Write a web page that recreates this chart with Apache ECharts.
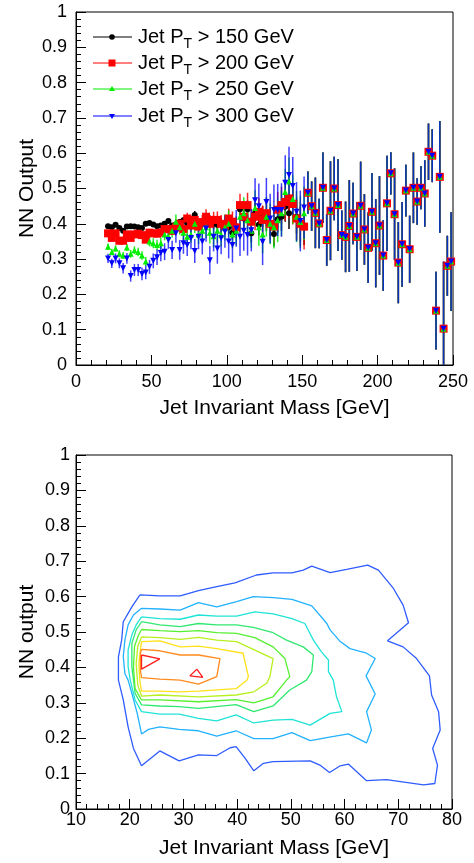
<!DOCTYPE html>
<html><head><meta charset="utf-8">
<script src="https://cdn.jsdelivr.net/npm/echarts@6/dist/echarts.min.js"></script>
<style>html,body{margin:0;padding:0;background:#fff}#c{width:474px;height:863px}</style>
</head><body><div id="c"></div>
<script>
// ---------- top panel: profile data ----------
const massLow = [21.25,23.75,26.25,28.75,31.25,33.75,36.25,38.75,41.25,43.75,46.25,48.75,51.25,53.75,56.25,58.75,61.25,
 63.75,66.25,68.75,71.25,73.75,76.25,78.75,81.25,83.75,86.25,88.75,91.25,93.75,96.25,98.75,101.25,103.75,106.25,108.75,111.25,
 113.75,116.25,118.75,121.25,123.75,126.25,128.75,131.25,133.75,136.25,138.75,141.25,143.75,146.25,148.75,151.25];
const massHigh = [153.75,156.25,158.75,161.25,163.75,166.25,168.75,171.25,173.75,176.25,178.75,181.25,183.75,186.25,188.75,
 191.25,193.75,196.25,198.75,201.25,203.75,206.25,208.75,211.25,213.75,216.25,218.75,221.25,223.75,226.25,228.75,231.25,
 233.75,236.25,238.75,241.25,243.75,246.25,248.75];

const pt150Low = [0.393,0.390,0.397,0.388,0.380,0.392,0.393,0.392,0.390,0.388,0.400,0.402,0.398,0.393,0.395,0.400,0.408,
 0.395,0.398,0.405,0.410,0.401,0.410,0.425,0.397,0.400,0.406,0.410,0.400,0.397,0.400,0.387,0.390,0.375,0.392,0.441,0.415,
 0.441,0.373,0.430,0.397,0.420,0.411,0.400,0.371,0.413,0.420,0.448,0.430,0.460,0.420,0.400,0.395];
const pt200Low = [0.373,0.360,0.373,0.352,0.352,0.370,0.360,0.370,0.372,0.368,0.355,0.375,0.373,0.372,0.375,0.385,0.385,
 0.380,0.390,0.400,0.385,0.415,0.395,0.411,0.392,0.405,0.420,0.400,0.411,0.411,0.400,0.395,0.415,0.406,0.390,0.453,0.420,
 0.453,0.406,0.420,0.434,0.411,0.430,0.400,0.392,0.440,0.453,0.462,0.472,0.456,0.415,0.400,0.392];
const pt250Low = [0.335,0.320,0.330,0.315,0.310,0.333,0.315,0.325,0.320,0.310,0.293,0.350,0.345,0.340,0.345,0.370,0.365,
 0.380,0.406,0.390,0.375,0.363,0.370,0.400,0.370,0.380,0.390,0.375,0.365,0.380,0.370,0.390,0.400,0.370,0.380,0.420,0.430,
 0.410,0.380,0.445,0.390,0.370,0.420,0.400,0.390,0.410,0.430,0.490,0.520,0.470,0.420,0.405,0.430];
const pt300Low = [0.302,0.288,0.302,0.288,0.274,0.302,0.252,0.269,0.269,0.258,0.262,0.278,0.295,0.305,0.317,0.321,0.354,
 0.326,0.373,0.326,0.345,0.340,0.360,0.323,0.363,0.350,0.387,0.297,0.363,0.330,0.359,0.378,0.350,0.340,0.387,0.363,0.380,
 0.368,0.382,0.467,0.450,0.349,0.462,0.415,0.439,0.439,0.439,0.516,0.538,0.507,0.434,0.408,0.446];
// above ~150 GeV all four selections give the same profile
const allPtHigh = [0.488,0.450,0.431,0.401,0.502,0.354,0.437,0.500,0.453,0.368,0.363,0.394,0.429,0.363,0.451,0.384,0.332,
 0.434,0.345,0.395,0.310,0.458,0.543,0.427,0.290,0.342,0.494,0.328,0.502,0.463,0.502,0.486,0.604,0.593,0.154,0.533,0.103,
 0.281,0.293];

const pt150ErrLow = [0.004,0.004,0.004,0.004,0.004,0.004,0.004,0.004,0.005,0.005,0.005,0.005,0.005,0.006,0.006,0.006,0.007,
 0.007,0.008,0.008,0.009,0.010,0.010,0.011,0.012,0.012,0.013,0.014,0.015,0.015,0.016,0.018,0.018,0.020,0.021,0.022,0.024,
 0.025,0.026,0.028,0.030,0.030,0.032,0.035,0.035,0.038,0.040,0.042,0.045,0.045,0.048,0.050,0.055];
const pt200ErrLow = [0.006,0.006,0.006,0.006,0.007,0.007,0.007,0.007,0.008,0.008,0.008,0.009,0.009,0.010,0.010,0.011,0.012,
 0.012,0.013,0.014,0.015,0.016,0.017,0.018,0.019,0.020,0.021,0.022,0.023,0.024,0.025,0.026,0.028,0.029,0.030,0.032,0.033,
 0.035,0.036,0.038,0.040,0.041,0.043,0.045,0.047,0.050,0.052,0.054,0.056,0.058,0.060,0.062,0.065];
const pt250ErrLow = [0.009,0.009,0.009,0.010,0.010,0.010,0.011,0.011,0.012,0.012,0.013,0.014,0.014,0.015,0.016,0.017,0.018,
 0.019,0.020,0.021,0.022,0.023,0.024,0.026,0.027,0.028,0.030,0.031,0.032,0.034,0.035,0.037,0.038,0.040,0.041,0.043,0.045,
 0.047,0.048,0.050,0.052,0.054,0.056,0.058,0.060,0.062,0.064,0.066,0.068,0.070,0.072,0.074,0.076];
const pt300ErrLow = [0.013,0.013,0.014,0.014,0.015,0.015,0.016,0.017,0.017,0.018,0.019,0.020,0.021,0.022,0.023,0.024,0.025,
 0.026,0.027,0.028,0.030,0.031,0.032,0.034,0.035,0.037,0.038,0.040,0.041,0.043,0.045,0.046,0.048,0.050,0.052,0.054,0.056,
 0.058,0.060,0.062,0.064,0.066,0.068,0.070,0.072,0.074,0.076,0.078,0.080,0.082,0.084,0.086,0.088];
const allPtErrHigh = [0.060,0.070,0.100,0.070,0.100,0.073,0.140,0.090,0.130,0.070,0.100,0.130,0.087,0.097,0.125,0.100,0.100,
 0.110,0.125,0.140,0.100,0.135,0.060,0.130,0.115,0.120,0.073,0.095,0.100,0.066,0.061,0.094,0.080,0.075,0.110,0.158,0.190,
 0.085,0.140];

const legendLabels = [['Jet P','T',' > 150 GeV'],['Jet P','T',' > 200 GeV'],['Jet P','T',' > 250 GeV'],['Jet P','T',' > 300 GeV']];
const xTicksTop = [0, 250, 50];
const xTicksBottom = [10, 80, 10];
const yTicks = [0, 1, 0.1];

// ---------- bottom panel: contour lines (outer to inner) ----------
const contourBlue = [[21.9,0.605],[25.6,0.602],[29.4,0.602],[32.8,0.617],[36.2,0.628],[39.6,0.639],[43.6,0.661],[46.7,0.667],
 [50.2,0.667],[52.3,0.675],[53.9,0.686],[57.3,0.668],[60.4,0.677],[64.3,0.689],[66.3,0.675],[69.1,0.623],[70.9,0.576],
 [71.9,0.526],[68.0,0.475],[70.9,0.458],[73.4,0.425],[75.8,0.376],[76.2,0.322],[77.5,0.275],[77.8,0.223],[76.4,0.171],
 [77.3,0.124],[76.8,0.072],[74.7,0.068],[67.8,0.083],[64.1,0.080],[60.7,0.127],[59.2,0.122],[57.2,0.103],[55.4,0.124],
 [53.6,0.136],[46.7,0.134],[44.9,0.129],[43.1,0.108],[41.5,0.143],[39.8,0.176],[38.7,0.173],[36.2,0.151],[32.8,0.153],
 [29.2,0.136],[25.6,0.164],[22.2,0.122],[20.7,0.171],[19.7,0.232],[18.8,0.308],[17.9,0.364],[17.9,0.430],[18.5,0.477],
 [18.8,0.529],[20.4,0.571],[21.9,0.605]];
const contourLightBlue = [[22.2,0.567],[25.6,0.565],[29.4,0.562],[32.8,0.583],[36.2,0.571],[39.9,0.586],[43.0,0.600],
 [46.7,0.597],[50.2,0.592],[53.9,0.574],[56.7,0.524],[57.3,0.506],[59.2,0.473],[61.0,0.453],[64.1,0.440],[65.7,0.425],
 [64.0,0.376],[65.7,0.325],[64.1,0.275],[65.0,0.223],[64.1,0.187],[60.7,0.212],[57.2,0.203],[53.6,0.193],[50.2,0.216],
 [46.7,0.199],[43.1,0.199],[39.8,0.221],[36.2,0.206],[32.8,0.221],[29.2,0.225],[25.6,0.232],[23.5,0.225],[22.2,0.212],
 [21.4,0.270],[20.4,0.327],[19.7,0.364],[19.1,0.383],[18.8,0.430],[19.1,0.477],[19.7,0.520],[20.7,0.548],[22.2,0.567]];
const contourCyan = [[22.2,0.543],[25.6,0.538],[29.4,0.536],[32.8,0.548],[36.2,0.545],[39.9,0.545],[43.3,0.557],[46.7,0.551],
 [50.2,0.538],[52.6,0.524],[54.2,0.477],[55.7,0.444],[57.0,0.421],[57.0,0.388],[57.9,0.364],[58.5,0.317],[59.5,0.275],
 [57.3,0.270],[53.6,0.237],[50.2,0.253],[46.7,0.251],[43.1,0.243],[39.8,0.266],[36.2,0.249],[32.8,0.256],[29.2,0.268],
 [25.6,0.268],[22.2,0.275],[21.0,0.308],[20.1,0.364],[19.7,0.402],[19.7,0.449],[20.4,0.492],[21.2,0.520],[22.2,0.543]];
const contourSeaGreen = [[22.2,0.529],[25.6,0.520],[29.4,0.515],[32.8,0.524],[36.2,0.520],[39.9,0.520],[43.0,0.513],
 [46.7,0.498],[49.2,0.477],[52.3,0.458],[54.2,0.435],[53.9,0.388],[52.9,0.364],[49.8,0.336],[46.7,0.291],[43.1,0.275],
 [39.8,0.295],[32.8,0.284],[29.2,0.289],[25.6,0.291],[22.2,0.294],[21.0,0.327],[20.4,0.402],[20.4,0.468],[21.2,0.506],
 [22.2,0.529]];
const contourGreen = [[22.2,0.507],[25.6,0.504],[29.4,0.501],[32.8,0.504],[36.2,0.498],[39.9,0.496],[43.3,0.484],[46.7,0.458],
 [48.9,0.425],[49.8,0.374],[49.2,0.364],[46.7,0.317],[43.1,0.300],[39.8,0.309],[32.8,0.303],[25.6,0.308],[22.2,0.308],
 [21.0,0.340],[20.7,0.400],[20.9,0.460],[21.6,0.490],[22.2,0.507]];
const contourLime = [[22.2,0.486],[25.6,0.484],[29.4,0.479],[32.8,0.485],[36.2,0.477],[39.9,0.473],[43.3,0.449],[46.7,0.425],
 [46.1,0.374],[45.5,0.355],[43.1,0.331],[39.8,0.322],[32.8,0.317],[25.6,0.322],[22.2,0.319],[21.5,0.350],[21.2,0.410],
 [21.5,0.460],[22.2,0.486]];
const contourYellow = [[22.2,0.473],[25.6,0.475],[29.4,0.458],[32.8,0.460],[36.2,0.453],[41.1,0.440],[42.1,0.374],[41.8,0.364],
 [39.8,0.340],[32.8,0.333],[29.2,0.331],[25.6,0.333],[22.2,0.333],[21.9,0.360],[21.7,0.410],[22.0,0.450],[22.2,0.473]];
const contourOrange = [[22.2,0.451],[25.6,0.447],[29.4,0.435],[32.8,0.435],[36.8,0.425],[36.2,0.374],[32.8,0.353],[29.4,0.364],
 [25.6,0.367],[22.2,0.371],[22.0,0.392],[22.0,0.440],[22.2,0.451]];
const contourRedA = [[22.2,0.435],[25.6,0.424],[22.2,0.395],[22.2,0.435]];
const contourRedB = [[32.5,0.395],[31.2,0.376],[33.6,0.372],[32.5,0.395]];

const contours = [
  [contourBlue,'#2f5cff'],[contourLightBlue,'#22b2ff'],[contourCyan,'#1fe3d6'],[contourSeaGreen,'#2fe870'],
  [contourGreen,'#55f030'],[contourLime,'#b6f01e'],[contourYellow,'#ffe11a'],[contourOrange,'#ff8a1e'],
  [contourRedA,'#ff1e1e'],[contourRedB,'#ff1e1e']
];

// ---------- chart ----------
const FONT = '"Liberation Sans", Arial, Helvetica, sans-serif';
const chart = echarts.init(document.getElementById('c'));

function axisCommon(min, max, interval, name, gap, labelMargin, nameOffsetPad) {
  return {
    type:'value', min:min, max:max, interval:interval,
    axisLine:{show:true, onZero:false, lineStyle:{color:'#000', width:1}},
    axisTick:{show:true, inside:true, length:10, lineStyle:{color:'#000', width:1}},
    minorTick:{show:true, splitNumber:5, length:5, lineStyle:{color:'#000', width:1}},
    splitLine:{show:false}, minorSplitLine:{show:false},
    axisLabel:{color:'#000', fontSize:18, fontFamily:FONT, margin:labelMargin, showMinLabel:true, showMaxLabel:true},
    name:name, nameLocation:'middle', nameGap:gap, nameMoveOverlap:false,
    nameTextStyle:{color:'#000', fontSize:21, fontFamily:FONT, padding:nameOffsetPad}
  };
}

const series = [];
const sets = [
  {low:pt150Low, err:pt150ErrLow, color:'#000000', symbol:'circle', size:6, rot:0, ew:1.5, eo:1},
  {low:pt200Low, err:pt200ErrLow, color:'#ff0000', symbol:'rect', size:8, rot:0, ew:1.5, eo:0.85},
  {low:pt250Low, err:pt250ErrLow, color:'#00ee00', symbol:'triangle', size:6, rot:0, ew:1.5, eo:0.85},
  {low:pt300Low, err:pt300ErrLow, color:'#0000ff', symbol:'triangle', size:6, rot:180, ew:1.5, eo:0.75}
];
const massAll = massLow.concat(massHigh);
sets.forEach(function(s, k){
  const vals = s.low.concat(allPtHigh);
  const errs = s.err.concat(allPtErrHigh);
  const col = s.color;
  series.push({
    type:'custom', xAxisIndex:0, yAxisIndex:0, clip:true, silent:true,
    data: massAll.map(function(m,i){ return [m, vals[i], errs[i]]; }),
    encode:{x:0, y:1},
    renderItem: function(params, api){
      const x = api.value(0), y = api.value(1), e = api.value(2);
      const p1 = api.coord([x, Math.max(0, y - e)]);
      const p2 = api.coord([x, Math.min(1, y + e)]);
      return {type:'line', shape:{x1:p1[0], y1:p1[1], x2:p2[0], y2:p2[1]},
              style:{stroke:col, lineWidth:s.ew, opacity:s.eo}};
    }
  });
  series.push({
    type:'scatter', xAxisIndex:0, yAxisIndex:0, silent:true,
    symbol:s.symbol, symbolSize:s.size, symbolRotate:s.rot,
    itemStyle:{color:col, opacity:1},
    data: massAll.map(function(m,i){ return [m, vals[i]]; })
  });
});
contours.forEach(function(c){
  series.push({
    type:'line', xAxisIndex:1, yAxisIndex:1, silent:true, showSymbol:false, symbol:'none',
    lineStyle:{color:c[1], width:1.3}, data:c[0], clip:true
  });
});

// legend drawn as graphics (line + marker + label with subscript)
const legendRows = [37, 63, 89, 116];
const legendGraphics = [];
sets.forEach(function(s, k){
  const y = legendRows[k];
  legendGraphics.push({type:'line', shape:{x1:93, y1:y, x2:132, y2:y}, style:{stroke:s.color, lineWidth:1.2}});
  let mk;
  if (k === 0) mk = {type:'circle', shape:{cx:112, cy:y, r:2.8}, style:{fill:s.color}};
  else if (k === 1) mk = {type:'rect', shape:{x:108.5, y:y-3.5, width:7, height:7}, style:{fill:s.color}};
  else if (k === 2) mk = {type:'polygon', shape:{points:[[112,y-3],[115,y+2],[109,y+2]]}, style:{fill:s.color}};
  else mk = {type:'polygon', shape:{points:[[109,y-2],[115,y-2],[112,y+3]]}, style:{fill:s.color}};
  legendGraphics.push(mk);
  const lab = legendLabels[k];
  legendGraphics.push({type:'text', x:138, y:y, style:{
    text:'{a|' + lab[0] + '}{s|' + lab[1] + '}{a|' + lab[2] + '}',
    textVerticalAlign:'middle', verticalAlign:'middle', align:'left',
    rich:{
      a:{fontSize:20, fontFamily:FONT, fill:'#000', lineHeight:20, verticalAlign:'top'},
      s:{fontSize:14, fontFamily:FONT, fill:'#000', lineHeight:14, verticalAlign:'top', padding:[10,0,0,0]}
    }
  }});
});

chart.setOption({
  animation:false,
  backgroundColor:'#ffffff',
  grid:[
    {left:76, top:12, width:377, height:353, show:true, borderColor:'#000', borderWidth:1, backgroundColor:'transparent'},
    {left:76, top:455, width:376, height:354, show:true, borderColor:'#000', borderWidth:1, backgroundColor:'transparent'}
  ],
  xAxis:[
    Object.assign({gridIndex:0}, axisCommon(xTicksTop[0], xTicksTop[1], xTicksTop[2], 'Jet Invariant Mass [GeV]', 33, 8, [0,0,0,20])),
    Object.assign({gridIndex:1}, axisCommon(xTicksBottom[0], xTicksBottom[1], xTicksBottom[2], 'Jet Invariant Mass [GeV]', 29, 2, [0,0,0,20]))
  ],
  yAxis:[
    Object.assign({gridIndex:0}, axisCommon(yTicks[0], yTicks[1], yTicks[2], 'NN Output', 38, 9, 0)),
    Object.assign({gridIndex:1}, axisCommon(yTicks[0], yTicks[1], yTicks[2], 'NN output', 38, 6, 0))
  ],
  series:series,
  graphic:legendGraphics
});
</script></body></html>
